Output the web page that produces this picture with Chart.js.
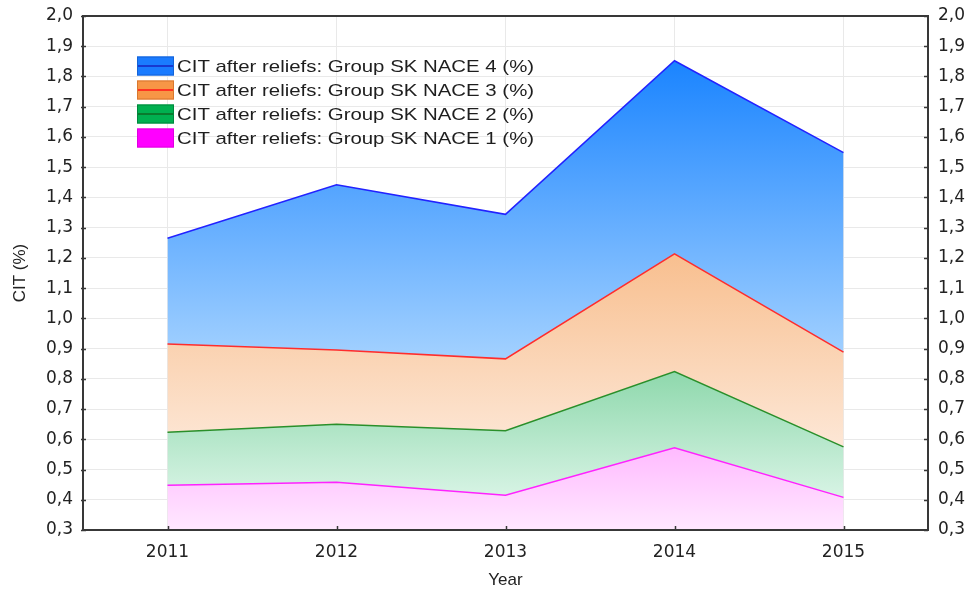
<!DOCTYPE html>
<html>
<head>
<meta charset="utf-8">
<title>CIT after reliefs by NACE group</title>
<script src="https://cdn.jsdelivr.net/npm/chart.js"></script>
<style>
  html, body { margin: 0; padding: 0; background: #fff; }
  #wrap { width: 970px; height: 589px; }
</style>
</head>
<body>
<div id="wrap"><canvas id="cit" width="970" height="589"></canvas></div>
<script>
// Years on the x axis
const years = ['2011', '2012', '2013', '2014', '2015'];

// Top edge of each band (cumulative, %)
const nace4 = [1.265, 1.442, 1.344, 1.852, 1.548];
const nace3 = [0.915, 0.895, 0.866, 1.213, 0.888];
const nace2 = [0.623, 0.650, 0.628, 0.824, 0.575];
const nace1 = [0.448, 0.458, 0.415, 0.572, 0.408];

const seriesLabels = [
    'CIT after reliefs: Group SK NACE 4 (%)',
    'CIT after reliefs: Group SK NACE 3 (%)',
    'CIT after reliefs: Group SK NACE 2 (%)',
    'CIT after reliefs: Group SK NACE 1 (%)'
];

const yMin = 0.3;
const yMax = 2.0;
const yStep = 0.1;

function commaTick(value) {
    return Number(value).toFixed(1).replace('.', ',');
}

// vertical gradient running from the band's highest point down to the lowest point of the band below
function bandGradient(top, below, dark, light) {
    return function (context) {
        let chart = context.chart;
        if (!chart.chartArea) {
            return light;
        }
        let y = chart.scales.y;
        let y0 = y.getPixelForValue(Math.max(...top));
        let y1 = below ? y.getPixelForValue(Math.min(...below)) : chart.chartArea.bottom;
        let g = chart.ctx.createLinearGradient(0, y0, 0, y1);
        g.addColorStop(0, dark);
        g.addColorStop(1, light);
        return g;
    };
}

function createDataset(label, data, line, fill, background) {
    return {
        label: label,
        data: data,
        borderColor: line,
        borderWidth: 1.5,
        backgroundColor: background,
        fill: fill,
        tension: 0,
        pointRadius: 0,
        pointHoverRadius: 0
    };
}

// fixed side width for a y axis, no extra room reserved above/below for the end labels
function fixedWidth(w) {
    return function (scale) {
        scale.width = w;
        scale.paddingTop = 0;
        scale.paddingBottom = 0;
    };
}

// legend swatches: fill, border, middle stroke
const legendStyles = [
    ['#1a7bff', '#1463d6', '#1838d0'],
    ['#f79646', '#d9772e', '#ff3322'],
    ['#00b050', '#00873d', '#0a7a2e'],
    ['#ff00ff', '#e000e0', '#ff00ff']
];

const boxLegend = {
    id: 'boxLegend',
    afterDraw(chart) {
        let ctx = chart.ctx;
        let x = chart.chartArea.left + 54;
        let y = chart.chartArea.top + 50;
        ctx.save();
        chart.data.datasets.forEach(function (ds, i) {
            let cy = y + i * 24;
            let s = legendStyles[i];
            ctx.fillStyle = s[0];
            ctx.fillRect(x, cy - 9.5, 37, 19);
            ctx.strokeStyle = s[1];
            ctx.lineWidth = 1;
            ctx.strokeRect(x + 0.5, cy - 9, 36, 18);
            ctx.strokeStyle = s[2];
            ctx.lineWidth = 2;
            ctx.beginPath();
            ctx.moveTo(x + 1, cy);
            ctx.lineTo(x + 36, cy);
            ctx.stroke();

            ctx.save();
            ctx.translate(x + 40, cy + 1);
            ctx.scale(1.2, 1);
            ctx.fillStyle = '#1e1e1e';
            ctx.font = '17px "Liberation Sans", Arial, sans-serif';
            ctx.textBaseline = 'middle';
            ctx.textAlign = 'left';
            ctx.fillText(ds.label, 0, 0);
            ctx.restore();
        });
        ctx.restore();
    }
};

// box around the plot with short inward tick marks
const plotFrame = {
    id: 'plotFrame',
    afterDraw(chart) {
        let ctx = chart.ctx;
        let a = chart.chartArea;
        ctx.save();
        ctx.strokeStyle = '#383838';
        ctx.lineWidth = 2;
        ctx.strokeRect(a.left, a.top, a.right - a.left, a.bottom - a.top);

        ctx.lineWidth = 1.5;
        ctx.beginPath();
        let ys = chart.scales.y;
        ys.ticks.forEach(function (t, i) {
            let p = Math.round(ys.getPixelForTick(i)) + 0.5;
            ctx.moveTo(a.left - 2, p);
            ctx.lineTo(a.left + 3, p);
            ctx.moveTo(a.right - 4, p);
            ctx.lineTo(a.right, p);
        });
        let xs = chart.scales.x;
        xs.ticks.forEach(function (t, i) {
            let p = Math.round(xs.getPixelForTick(i)) + 0.5;
            ctx.moveTo(p, a.bottom);
            ctx.lineTo(p, a.bottom - 4);
        });
        ctx.stroke();
        ctx.restore();
    }
};

const tickFont = { family: '"DejaVu Sans", Verdana, sans-serif', size: 17 };
const titleFont = { family: '"Liberation Sans", Arial, sans-serif', size: 17 };

let citChart = new Chart(document.getElementById('cit').getContext('2d'), {
    type: 'line',
    data: {
        labels: years,
        datasets: [
            createDataset(seriesLabels[0], nace4, '#2222ff', '+1', bandGradient(nace4, nace3, '#1a84ff', '#a3d1ff')),
            createDataset(seriesLabels[1], nace3, '#ff2d2d', '+1', bandGradient(nace3, nace2, '#f8bf8f', '#fde7d6')),
            createDataset(seriesLabels[2], nace2, '#2a8f2a', '+1', bandGradient(nace2, nace1, '#8ed8ac', '#d8f4e5')),
            createDataset(seriesLabels[3], nace1, '#ff22ff', 'start', bandGradient(nace1, null, '#ffbaff', '#ffe8ff'))
        ]
    },
    options: {
        responsive: false,
        animation: false,
        events: [],
        layout: {
            padding: { top: 16, left: 0, right: 0, bottom: 0 }
        },
        plugins: {
            legend: { display: false },
            tooltip: { enabled: false },
            filler: { drawTime: 'beforeDatasetsDraw' }
        },
        scales: {
            x: {
                type: 'category',
                offset: true,
                afterFit: function (scale) { scale.height = 59; },
                grid: {
                    color: '#e9e9e9',
                    lineWidth: 1,
                    offset: false,
                    drawTicks: false
                },
                border: { display: false },
                ticks: {
                    color: '#222',
                    font: tickFont,
                    padding: 12,
                    maxRotation: 0
                },
                title: {
                    display: true,
                    text: 'Year',
                    color: '#222',
                    font: titleFont,
                    padding: { top: 0, bottom: -2 }
                }
            },
            y: {
                position: 'left',
                min: yMin,
                max: yMax,
                afterFit: fixedWidth(83),
                grid: {
                    color: '#e9e9e9',
                    lineWidth: 1,
                    drawTicks: false
                },
                border: { display: false },
                ticks: {
                    stepSize: yStep,
                    color: '#222',
                    font: tickFont,
                    padding: 10,
                    callback: commaTick
                },
                title: {
                    display: true,
                    text: 'CIT (%)',
                    color: '#222',
                    font: titleFont,
                    padding: { top: 10, bottom: 0 }
                }
            },
            y2: {
                position: 'right',
                min: yMin,
                max: yMax,
                afterFit: fixedWidth(42),
                grid: { display: false, drawTicks: false },
                border: { display: false },
                ticks: {
                    stepSize: yStep,
                    color: '#222',
                    font: tickFont,
                    padding: 10,
                    callback: commaTick
                }
            }
        }
    },
    plugins: [boxLegend, plotFrame]
});
</script>
</body>
</html>
